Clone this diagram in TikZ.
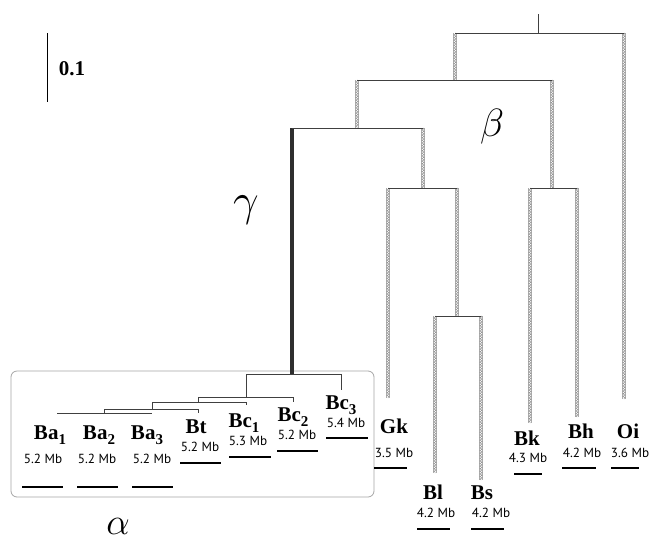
\documentclass[tikz,border=0pt]{standalone}
\usepackage{fontspec}
\setmainfont{Liberation Serif}
\newfontfamily\sizefont{PT Sans}
\usetikzlibrary{decorations.pathmorphing}
\newcommand\subn[1]{\raisebox{-5pt}{\fontsize{15}{15}\selectfont #1}}
\begin{document}
\begin{tikzpicture}[x=1pt,y=-1pt,
  br/.style={draw=black!75, line width=0.9pt},
  thickbr/.style={draw=black!82, line width=3.6pt},
  hatch/.style={draw=white, line width=2.6pt,
    preaction={draw=gray!65, line width=4.6pt},
    postaction={decorate, draw=gray!85, line width=0.5pt,
      decoration={zigzag, amplitude=1.2pt, segment length=2.6pt}}},
  taxon/.style={inner sep=0pt, anchor=base, font=\bfseries\fontsize{21}{21}\selectfont},
  gsize/.style={inner sep=0pt, anchor=base, font=\sizefont\fontsize{13.2}{13.5}\selectfont},
  bar/.style={draw=black, line width=2.4pt},
  greek/.style={inner sep=0pt, font=\fontsize{20}{20}\selectfont}]
\useasboundingbox (0,0) rectangle (650,541);
\fill[white] (0,0) rectangle (650,541);

% scale bar
\coordinate (sb1) at (47,33);
\coordinate (sb2) at (47,102);
\draw[line width=0.9pt] (sb1) -- (sb2);
\node[taxon] (scale) at (72,75) {0.1};

% alpha box
\draw[draw=gray!70, line width=0.8pt, rounded corners=6pt] (11,371) rectangle (374,497);

% main tree coordinates
\coordinate (top) at (538,14);
\coordinate (R) at (538,33);
\coordinate (Rl) at (455,33);
\coordinate (Rr) at (624,33);
\coordinate (N1) at (455,80);
\coordinate (N1l) at (357,80);
\coordinate (N1r) at (552,80);
\coordinate (N2) at (357,128);
\coordinate (N2l) at (292,128);
\coordinate (N2r) at (423,128);
\coordinate (N3) at (423,188);
\coordinate (N3l) at (388,188);
\coordinate (N3r) at (457,188);
\coordinate (N4) at (457,316);
\coordinate (N4l) at (435,316);
\coordinate (N4r) at (481,316);
\coordinate (N5) at (552,188);
\coordinate (N5l) at (530,188);
\coordinate (N5r) at (577,188);
\coordinate (tOi) at (624,399);
\coordinate (tGk) at (388,398);
\coordinate (tBl) at (435,473);
\coordinate (tBs) at (481,480);
\coordinate (tBk) at (530,423);
\coordinate (tBh) at (577,417);

% alpha clade coordinates
\coordinate (A0) at (292,374);
\coordinate (A0l) at (246,374);
\coordinate (A0r) at (341,374);
\coordinate (tBc3) at (341,390);
\coordinate (A1) at (246,397);
\coordinate (A1l) at (198,397);
\coordinate (A1r) at (293,397);
\coordinate (tBc2) at (293,402);
\coordinate (A2) at (198,402);
\coordinate (A2l) at (152,402);
\coordinate (A2r) at (246,402);
\coordinate (tBc1) at (246,405);
\coordinate (A3) at (152,409);
\coordinate (A3l) at (104,409);
\coordinate (A3r) at (198,409);
\coordinate (tBt) at (198,413);
\coordinate (A4) at (104,413);
\coordinate (A4l) at (57,413);
\coordinate (A4r) at (152,413);

% hatched branches
\draw[hatch] (Rl) -- (N1);
\draw[hatch] (Rr) -- (tOi);
\draw[hatch] (N1l) -- (N2);
\draw[hatch] (N1r) -- (N5);
\draw[hatch] (N2r) -- (N3);
\draw[hatch] (N3l) -- (tGk);
\draw[hatch] (N3r) -- (N4);
\draw[hatch] (N4l) -- (tBl);
\draw[hatch] (N4r) -- (tBs);
\draw[hatch] (N5l) -- (tBk);
\draw[hatch] (N5r) -- (tBh);

% gamma branch
\draw[thickbr] (N2l) -- (A0);

% horizontals
\draw[br] (top) -- (R);
\draw[br] (Rl) -- (Rr);
\draw[br] (N1l) -- (N1r);
\draw[br] (N2l) -- (N2r);
\draw[br] (N3l) -- (N3r);
\draw[br] (N4l) -- (N4r);
\draw[br] (N5l) -- (N5r);

% alpha clade
\draw[br] (A0l) -- (A0r) -- (tBc3);
\draw[br] (A0l) -- (A1);
\draw[br] (A1l) -- (A1r) -- (tBc2);
\draw[br] (A1l) -- (A2);
\draw[br] (A2l) -- (A2r) -- (tBc1);
\draw[br] (A2l) -- (A3);
\draw[br] (A3l) -- (A3r) -- (tBt);
\draw[br] (A3l) -- (A4);
\draw[br] (A4l) -- (A4r);

% taxon labels
\node[taxon] (Ba1) at (50,439) {Ba\subn{1}};
\node[taxon] (Ba2) at (99,439) {Ba\subn{2}};
\node[taxon] (Ba3) at (147,439) {Ba\subn{3}};
\node[taxon] (Bt) at (196,433) {Bt};
\node[taxon] (Bc1) at (244,427) {Bc\subn{1}};
\node[taxon] (Bc2) at (293,421) {Bc\subn{2}};
\node[taxon] (Bc3) at (341,409) {Bc\subn{3}};
\node[taxon] (Gk) at (394,433) {Gk};
\node[taxon] (Bl) at (433,499) {Bl};
\node[taxon] (Bs) at (482,499) {Bs};
\node[taxon] (Bk) at (527,445) {Bk};
\node[taxon] (Bh) at (581,438) {Bh};
\node[taxon] (Oi) at (628,438) {Oi};

% genome sizes
\node[gsize] (sBa1) at (43,463) {5.2 Mb};
\node[gsize] (sBa2) at (97,463) {5.2 Mb};
\node[gsize] (sBa3) at (152,463) {5.2 Mb};
\node[gsize] (sBt) at (200,451) {5.2 Mb};
\node[gsize] (sBc1) at (248,445) {5.3 Mb};
\node[gsize] (sBc2) at (297,439) {5.2 Mb};
\node[gsize] (sBc3) at (346,427) {5.4 Mb};
\node[gsize] (sGk) at (394,457) {3.5 Mb};
\node[gsize] (sBl) at (436,517) {4.2 Mb};
\node[gsize] (sBs) at (491,517) {4.2 Mb};
\node[gsize] (sBk) at (528,462) {4.3 Mb};
\node[gsize] (sBh) at (582,457) {4.2 Mb};
\node[gsize] (sOi) at (630,457) {3.6 Mb};

% bars
\draw[bar] (22,487) -- (63,487);
\draw[bar] (77,487) -- (118,487);
\draw[bar] (132,487) -- (173,487);
\draw[bar] (180,463) -- (221,463);
\draw[bar] (229,457) -- (271,457);
\draw[bar] (277,451) -- (318,451);
\draw[bar] (326,438) -- (368,438);
\draw[bar] (374,468) -- (407,468);
\draw[bar] (417,529) -- (450,529);
\draw[bar] (471,529) -- (504,529);
\draw[bar] (514,474) -- (542,474);
\draw[bar] (562,468) -- (596,468);
\draw[bar] (611,468) -- (639,468);

% greek labels
\node[greek] (beta) at (492,127) {\scalebox{1.9}{$\beta$}};
\node[greek] (gamma) at (246,210) {\scalebox{2.2}{$\gamma$}};
\node[greek] (alpha) at (118,526) {\scalebox{1.8}{$\alpha$}};
\end{tikzpicture}
\end{document}
